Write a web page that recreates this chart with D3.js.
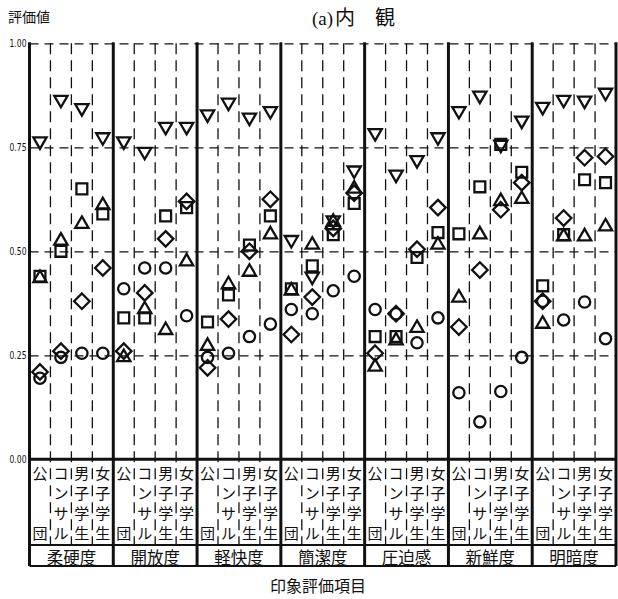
<!DOCTYPE html>
<html>
<head>
<meta charset="utf-8">
<script src="https://cdn.jsdelivr.net/npm/d3@7"></script>
<style>
  html, body { margin: 0; padding: 0; background: #fff; }
  svg { display: block; }
</style>
</head>
<body>
<svg id="chart" width="618" height="599"></svg>
<script>
// Impression items (groups) and respondent categories (columns within a group)
const groups = ["柔硬度", "開放度", "軽快度", "簡潔度", "圧迫感", "新鮮度", "明暗度"];
const subjects = ["公団", "コンサル", "男子学生", "女子学生"];
const subjectChars = [["公", "", "", "団"], ["コ", "ン", "サ", "ル"], ["男", "子", "学", "生"], ["女", "子", "学", "生"]];
const yTicks = [0, 0.25, 0.5, 0.75, 1.0];

// Evaluation values, group-major: 4 respondent categories per impression item
const circleVals = [
  0.195, 0.245, 0.255, 0.255,
  0.41, 0.46, 0.46, 0.345,
  0.245, 0.255, 0.295, 0.325,
  0.36, 0.35, 0.405, 0.44,
  0.36, 0.35, 0.28, 0.34,
  0.16, 0.09, 0.163, 0.245,
  0.38, 0.335, 0.378, 0.29
];
const squareVals = [
  0.44, 0.50, 0.65, 0.59,
  0.34, 0.34, 0.585, 0.605,
  0.33, 0.395, 0.515, 0.585,
  0.41, 0.465, 0.54, 0.615,
  0.295, 0.295, 0.485, 0.545,
  0.542, 0.655, 0.757, 0.69,
  0.417, 0.54, 0.672, 0.665
];
const triangleUpVals = [
  0.44, 0.53, 0.57, 0.615,
  0.25, 0.365, 0.315, 0.48,
  0.277, 0.425, 0.455, 0.545,
  0.41, 0.52, 0.575, 0.655,
  0.227, 0.29, 0.32, 0.52,
  0.393, 0.545, 0.625, 0.63,
  0.33, 0.54, 0.54, 0.564
];
const diamondVals = [
  0.21, 0.26, 0.38, 0.46,
  0.26, 0.40, 0.53, 0.62,
  0.22, 0.337, 0.50, 0.625,
  0.30, 0.39, 0.555, 0.64,
  0.255, 0.35, 0.505, 0.605,
  0.318, 0.455, 0.60, 0.665,
  0.38, 0.58, 0.725, 0.728
];
const triangleDownVals = [
  0.76, 0.86, 0.84, 0.77,
  0.76, 0.735, 0.795, 0.795,
  0.825, 0.853, 0.817, 0.833,
  0.523, 0.435, 0.57, 0.69,
  0.78, 0.68, 0.715, 0.77,
  0.833, 0.87, 0.752, 0.81,
  0.843, 0.86, 0.858, 0.877
];

// Marker shapes, each centred on its bounding box
const triUp = { draw(ctx, size) { const s = Math.sqrt(size * 4 / Math.sqrt(3)), h = s * Math.sqrt(3) / 2;
  ctx.moveTo(0, -h / 2); ctx.lineTo(s / 2, h / 2); ctx.lineTo(-s / 2, h / 2); ctx.closePath(); } };
const triDown = { draw(ctx, size) { const s = Math.sqrt(size * 4 / Math.sqrt(3)), h = s * Math.sqrt(3) / 2;
  ctx.moveTo(0, h / 2); ctx.lineTo(s / 2, -h / 2); ctx.lineTo(-s / 2, -h / 2); ctx.closePath(); } };
const rhombus = { draw(ctx, size) { const r = Math.sqrt(size / 2);
  ctx.moveTo(0, -r); ctx.lineTo(r, 0); ctx.lineTo(0, r); ctx.lineTo(-r, 0); ctx.closePath(); } };

const series = [
  { values: circleVals, type: d3.symbolCircle, size: 100 },
  { values: squareVals, type: d3.symbolSquare, size: 118 },
  { values: triangleUpVals, type: triUp, size: 76 },
  { values: diamondVals, type: rhombus, size: 120 },
  { values: triangleDownVals, type: triDown, size: 76 }
];

const svg = d3.select("#chart");
const ink = "#111";
const cjk = "'Noto Sans CJK JP', 'Noto Sans CJK SC', sans-serif";

const left = 29.5, right = 616;
const y = d3.scaleLinear().domain([0, 1]).range([459.3, 43.3]);
const gx = d3.scaleBand().domain(groups).range([left, right]);
const sx = d3.scaleBand().domain(subjects).range([0, gx.bandwidth()]);
const labelSep = 545, labelBottom = 566;

// Title and axis captions
svg.append("text").attr("x", 8).attr("y", 22)
  .attr("font-family", cjk).attr("font-size", 14).attr("fill", ink).text("評価値");
const title = svg.append("text").attr("x", 312).attr("y", 25).attr("fill", ink);
title.append("tspan").attr("font-family", "'Liberation Serif', serif").attr("font-size", 19).text("(a)");
title.append("tspan").attr("font-family", cjk).attr("font-size", 20).attr("dx", 2).text("内　観");
svg.append("text").attr("x", 318).attr("y", 592).attr("text-anchor", "middle")
  .attr("font-family", cjk).attr("font-size", 16).attr("fill", ink).text("印象評価項目");

// Y axis tick labels
const yAxis = d3.axisLeft(y).tickValues(yTicks).tickFormat(d3.format(".2f")).tickSize(0).tickPadding(3);
const ya = svg.append("g").attr("transform", `translate(${left},0)`).call(yAxis);
ya.select(".domain").remove();
ya.selectAll("text").attr("font-family", "'DejaVu Sans', sans-serif").attr("font-size", 11)
  .attr("fill", ink).attr("textLength", 17).attr("lengthAdjust", "spacingAndGlyphs");

// Horizontal dashed grid lines
const grid = d3.axisLeft(y).tickValues(yTicks.filter(v => v > 0)).tickSize(-(right - left)).tickFormat("");
const gg = svg.append("g").attr("transform", `translate(${left},0)`).call(grid);
gg.select(".domain").remove();
gg.selectAll("line").attr("stroke", ink).attr("stroke-width", 1.3).attr("stroke-dasharray", "9,6");

// Dashed column dividers through plot and label rows
const dividers = [];
groups.forEach(g => subjects.slice(1).forEach(s => dividers.push(gx(g) + sx(s))));
svg.append("g").selectAll("line").data(dividers).join("line")
  .attr("x1", d => d).attr("x2", d => d).attr("y1", y(1)).attr("y2", labelSep)
  .attr("stroke", ink).attr("stroke-width", 1.3).attr("stroke-dasharray", "11,6");

// Solid group boundaries
const bounds = groups.map(g => gx(g)).concat([right]);
svg.append("g").selectAll("line").data(bounds).join("line")
  .attr("x1", d => d).attr("x2", d => d).attr("y1", y(1) - 1).attr("y2", labelBottom)
  .attr("stroke", ink).attr("stroke-width", 3);

// Horizontal rules of the label table
svg.append("g").selectAll("line").data([y(0), labelSep, labelBottom]).join("line")
  .attr("x1", left).attr("x2", right).attr("y1", d => d).attr("y2", d => d)
  .attr("stroke", ink).attr("stroke-width", (d, i) => i === 0 ? 3 : 2.2);

// Vertical respondent labels
const rowY = [473, 493.5, 513.5, 533.5];
groups.forEach(g => {
  subjects.forEach((s, si) => {
    const cx = gx(g) + sx(s) + sx.bandwidth() / 2;
    subjectChars[si].forEach((ch, ri) => {
      if (!ch) return;
      svg.append("text").attr("x", cx).attr("y", rowY[ri] + 5.5).attr("text-anchor", "middle")
        .attr("font-family", cjk).attr("font-size", 15)
        .attr("fill", ink).text(ch);
    });
  });
  svg.append("text").attr("x", gx(g) + gx.bandwidth() / 2).attr("y", 563.5)
    .attr("text-anchor", "middle")
    .attr("font-family", cjk).attr("font-size", 16.5).attr("fill", ink).text(g);
});

// Markers
const colX = i => gx(groups[Math.floor(i / 4)]) + sx(subjects[i % 4]) + sx.bandwidth() / 2;
series.forEach(se => {
  const sym = d3.symbol().type(se.type).size(se.size);
  svg.append("g").selectAll("path").data(se.values).join("path")
    .attr("d", sym)
    .attr("transform", (d, i) => `translate(${colX(i)},${y(d)})`)
    .attr("fill", "none").attr("stroke", ink).attr("stroke-width", 2.3);
});
</script>
</body>
</html>
